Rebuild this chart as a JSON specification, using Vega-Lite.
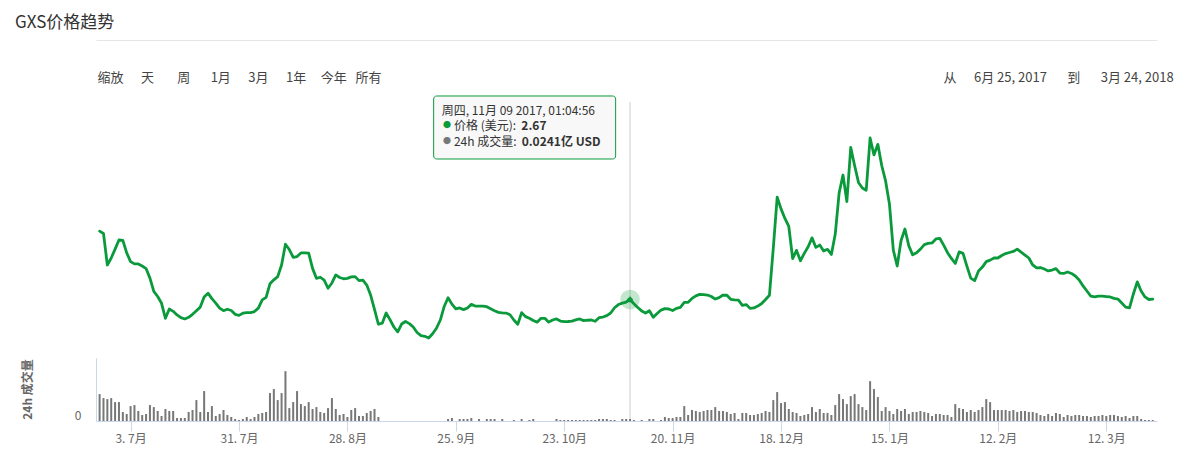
{
"$schema": "https://vega.github.io/schema/vega-lite/v6.json",
"width": 1061, "height": 319,
"autosize": {"type": "none"},
"padding": {"left": 96, "top": 102, "right": 42, "bottom": 52},
"background": "white",
"config": {"font": "Noto Sans CJK SC", "view": {"stroke": null}},
"title": {"text": "GXS价格趋势", "anchor": "start", "frame": "group", "dx": -81, "dy": 20, "offset": 11, "baseline": "bottom", "fontSize": 17, "fontWeight": "normal", "color": "#333333"},
"data": {"format": {"parse": {"date": "date"}}, "values": [
{"date":"2017/06/25","price":5.90,"volume":32.3},
{"date":"2017/06/26","price":5.79,"volume":27.5},
{"date":"2017/06/27","price":4.30,"volume":26.3},
{"date":"2017/06/28","price":4.63,"volume":27.5},
{"date":"2017/06/29","price":5.05,"volume":22.7},
{"date":"2017/06/30","price":5.48,"volume":22.7},
{"date":"2017/07/01","price":5.46,"volume":10.8},
{"date":"2017/07/02","price":4.87,"volume":8.4},
{"date":"2017/07/03","price":4.46,"volume":17.9},
{"date":"2017/07/04","price":4.35,"volume":19.1},
{"date":"2017/07/05","price":4.35,"volume":12},
{"date":"2017/07/06","price":4.25,"volume":7.2},
{"date":"2017/07/07","price":4.13,"volume":8.4},
{"date":"2017/07/08","price":3.68,"volume":19.1},
{"date":"2017/07/09","price":3.05,"volume":16.7},
{"date":"2017/07/10","price":2.81,"volume":12},
{"date":"2017/07/11","price":2.49,"volume":6},
{"date":"2017/07/12","price":1.78,"volume":14.4},
{"date":"2017/07/13","price":2.22,"volume":12},
{"date":"2017/07/14","price":2.11,"volume":12},
{"date":"2017/07/15","price":1.94,"volume":3.6},
{"date":"2017/07/16","price":1.81,"volume":3.6},
{"date":"2017/07/17","price":1.75,"volume":3.6},
{"date":"2017/07/18","price":1.83,"volume":10.8},
{"date":"2017/07/19","price":1.97,"volume":13.2},
{"date":"2017/07/20","price":2.14,"volume":25.1},
{"date":"2017/07/21","price":2.31,"volume":10.8},
{"date":"2017/07/22","price":2.79,"volume":35.9},
{"date":"2017/07/23","price":2.97,"volume":10.8},
{"date":"2017/07/24","price":2.71,"volume":17.9},
{"date":"2017/07/25","price":2.50,"volume":6},
{"date":"2017/07/26","price":2.26,"volume":8.4},
{"date":"2017/07/27","price":2.14,"volume":13.2},
{"date":"2017/07/28","price":2.21,"volume":7.2},
{"date":"2017/07/29","price":2.15,"volume":4.8},
{"date":"2017/07/30","price":1.97,"volume":2.4},
{"date":"2017/07/31","price":1.92,"volume":1.2},
{"date":"2017/08/01","price":2.02,"volume":2.4},
{"date":"2017/08/02","price":2.05,"volume":4.8},
{"date":"2017/08/03","price":2.05,"volume":2.4},
{"date":"2017/08/04","price":2.10,"volume":4.8},
{"date":"2017/08/05","price":2.26,"volume":8.4},
{"date":"2017/08/06","price":2.65,"volume":9.6},
{"date":"2017/08/07","price":2.77,"volume":10.8},
{"date":"2017/08/08","price":3.41,"volume":33.5},
{"date":"2017/08/09","price":3.60,"volume":38.3},
{"date":"2017/08/10","price":3.75,"volume":25.1},
{"date":"2017/08/11","price":4.30,"volume":33.5},
{"date":"2017/08/12","price":5.28,"volume":59.8},
{"date":"2017/08/13","price":5.03,"volume":15.5},
{"date":"2017/08/14","price":4.66,"volume":22.7},
{"date":"2017/08/15","price":4.70,"volume":35.9},
{"date":"2017/08/16","price":4.87,"volume":20.3},
{"date":"2017/08/17","price":4.87,"volume":17.9},
{"date":"2017/08/18","price":4.86,"volume":22.7},
{"date":"2017/08/19","price":4.14,"volume":14.4},
{"date":"2017/08/20","price":3.67,"volume":16.7},
{"date":"2017/08/21","price":3.72,"volume":10.8},
{"date":"2017/08/22","price":3.58,"volume":9.6},
{"date":"2017/08/23","price":3.20,"volume":15.5},
{"date":"2017/08/24","price":3.45,"volume":27.5},
{"date":"2017/08/25","price":3.83,"volume":14.4},
{"date":"2017/08/26","price":3.71,"volume":7.2},
{"date":"2017/08/27","price":3.65,"volume":8.4},
{"date":"2017/08/28","price":3.67,"volume":4.8},
{"date":"2017/08/29","price":3.74,"volume":13.2},
{"date":"2017/08/30","price":3.75,"volume":15.5},
{"date":"2017/08/31","price":3.56,"volume":6},
{"date":"2017/09/01","price":3.58,"volume":6},
{"date":"2017/09/02","price":3.35,"volume":9.6},
{"date":"2017/09/03","price":2.88,"volume":12},
{"date":"2017/09/04","price":2.20,"volume":14.4},
{"date":"2017/09/05","price":1.50,"volume":4.8},
{"date":"2017/09/06","price":1.55,"volume":0},
{"date":"2017/09/07","price":2.03,"volume":0},
{"date":"2017/09/08","price":1.72,"volume":0},
{"date":"2017/09/09","price":1.37,"volume":0},
{"date":"2017/09/10","price":1.14,"volume":0},
{"date":"2017/09/11","price":1.51,"volume":0},
{"date":"2017/09/12","price":1.63,"volume":0},
{"date":"2017/09/13","price":1.53,"volume":0},
{"date":"2017/09/14","price":1.37,"volume":0},
{"date":"2017/09/15","price":1.11,"volume":0},
{"date":"2017/09/16","price":0.96,"volume":0},
{"date":"2017/09/17","price":0.93,"volume":0},
{"date":"2017/09/18","price":0.85,"volume":0},
{"date":"2017/09/19","price":1.05,"volume":0},
{"date":"2017/09/20","price":1.31,"volume":0},
{"date":"2017/09/21","price":1.70,"volume":0},
{"date":"2017/09/22","price":2.34,"volume":0},
{"date":"2017/09/23","price":2.75,"volume":2.4},
{"date":"2017/09/24","price":2.45,"volume":3.6},
{"date":"2017/09/25","price":2.23,"volume":0},
{"date":"2017/09/26","price":2.27,"volume":2.4},
{"date":"2017/09/27","price":2.19,"volume":2.4},
{"date":"2017/09/28","price":2.27,"volume":2.4},
{"date":"2017/09/29","price":2.44,"volume":3.6},
{"date":"2017/09/30","price":2.36,"volume":0},
{"date":"2017/10/01","price":2.36,"volume":2.4},
{"date":"2017/10/02","price":2.36,"volume":0},
{"date":"2017/10/03","price":2.33,"volume":2.4},
{"date":"2017/10/04","price":2.23,"volume":2.4},
{"date":"2017/10/05","price":2.14,"volume":2.4},
{"date":"2017/10/06","price":2.06,"volume":0},
{"date":"2017/10/07","price":2.04,"volume":2.4},
{"date":"2017/10/08","price":2.03,"volume":0},
{"date":"2017/10/09","price":1.95,"volume":0},
{"date":"2017/10/10","price":1.70,"volume":1.2},
{"date":"2017/10/11","price":1.50,"volume":0},
{"date":"2017/10/12","price":2.05,"volume":2.4},
{"date":"2017/10/13","price":1.86,"volume":0},
{"date":"2017/10/14","price":1.78,"volume":1.2},
{"date":"2017/10/15","price":1.68,"volume":2.4},
{"date":"2017/10/16","price":1.60,"volume":0},
{"date":"2017/10/17","price":1.78,"volume":0},
{"date":"2017/10/18","price":1.78,"volume":0},
{"date":"2017/10/19","price":1.60,"volume":0},
{"date":"2017/10/20","price":1.70,"volume":0},
{"date":"2017/10/21","price":1.75,"volume":2.4},
{"date":"2017/10/22","price":1.65,"volume":1.2},
{"date":"2017/10/23","price":1.62,"volume":1.2},
{"date":"2017/10/24","price":1.63,"volume":1.2},
{"date":"2017/10/25","price":1.65,"volume":1.2},
{"date":"2017/10/26","price":1.71,"volume":1.2},
{"date":"2017/10/27","price":1.75,"volume":1.2},
{"date":"2017/10/28","price":1.67,"volume":1.2},
{"date":"2017/10/29","price":1.69,"volume":1.2},
{"date":"2017/10/30","price":1.70,"volume":1.2},
{"date":"2017/10/31","price":1.64,"volume":1.2},
{"date":"2017/11/01","price":1.81,"volume":2.4},
{"date":"2017/11/02","price":1.84,"volume":2.4},
{"date":"2017/11/03","price":1.91,"volume":2.4},
{"date":"2017/11/04","price":2.03,"volume":1.2},
{"date":"2017/11/05","price":2.28,"volume":1.2},
{"date":"2017/11/06","price":2.43,"volume":0},
{"date":"2017/11/07","price":2.50,"volume":2.4},
{"date":"2017/11/08","price":2.55,"volume":2.4},
{"date":"2017/11/09","price":2.67,"volume":2.41},
{"date":"2017/11/10","price":2.47,"volume":1.2},
{"date":"2017/11/11","price":2.29,"volume":0},
{"date":"2017/11/12","price":2.13,"volume":1.2},
{"date":"2017/11/13","price":2.03,"volume":0},
{"date":"2017/11/14","price":2.14,"volume":2.4},
{"date":"2017/11/15","price":1.83,"volume":2.4},
{"date":"2017/11/16","price":2.01,"volume":0},
{"date":"2017/11/17","price":2.17,"volume":1.2},
{"date":"2017/11/18","price":2.24,"volume":4.8},
{"date":"2017/11/19","price":2.22,"volume":3.6},
{"date":"2017/11/20","price":2.15,"volume":3.6},
{"date":"2017/11/21","price":2.25,"volume":4.8},
{"date":"2017/11/22","price":2.30,"volume":4.8},
{"date":"2017/11/23","price":2.53,"volume":17.9},
{"date":"2017/11/24","price":2.54,"volume":7.2},
{"date":"2017/11/25","price":2.72,"volume":13.2},
{"date":"2017/11/26","price":2.84,"volume":12},
{"date":"2017/11/27","price":2.91,"volume":10.8},
{"date":"2017/11/28","price":2.90,"volume":12},
{"date":"2017/11/29","price":2.88,"volume":13.2},
{"date":"2017/11/30","price":2.81,"volume":13.2},
{"date":"2017/12/01","price":2.69,"volume":16.7},
{"date":"2017/12/02","price":2.76,"volume":12},
{"date":"2017/12/03","price":2.88,"volume":12},
{"date":"2017/12/04","price":2.87,"volume":10.8},
{"date":"2017/12/05","price":2.68,"volume":8.4},
{"date":"2017/12/06","price":2.65,"volume":9.6},
{"date":"2017/12/07","price":2.64,"volume":2.4},
{"date":"2017/12/08","price":2.39,"volume":9.6},
{"date":"2017/12/09","price":2.43,"volume":9.6},
{"date":"2017/12/10","price":2.25,"volume":7.2},
{"date":"2017/12/11","price":2.27,"volume":7.2},
{"date":"2017/12/12","price":2.36,"volume":8.4},
{"date":"2017/12/13","price":2.48,"volume":9.6},
{"date":"2017/12/14","price":2.67,"volume":12},
{"date":"2017/12/15","price":2.87,"volume":10.8},
{"date":"2017/12/16","price":5.10,"volume":25.1},
{"date":"2017/12/17","price":7.50,"volume":34.7},
{"date":"2017/12/18","price":6.95,"volume":21.5},
{"date":"2017/12/19","price":6.50,"volume":22.7},
{"date":"2017/12/20","price":6.12,"volume":14.4},
{"date":"2017/12/21","price":4.60,"volume":10.8},
{"date":"2017/12/22","price":4.99,"volume":9.6},
{"date":"2017/12/23","price":4.50,"volume":6},
{"date":"2017/12/24","price":4.85,"volume":7.2},
{"date":"2017/12/25","price":5.16,"volume":8.4},
{"date":"2017/12/26","price":5.58,"volume":16.7},
{"date":"2017/12/27","price":5.13,"volume":10.8},
{"date":"2017/12/28","price":5.24,"volume":14.4},
{"date":"2017/12/29","price":4.96,"volume":9.6},
{"date":"2017/12/30","price":5.04,"volume":9.6},
{"date":"2017/12/31","price":4.80,"volume":7.2},
{"date":"2018/01/01","price":5.76,"volume":19.1},
{"date":"2018/01/02","price":7.70,"volume":32.3},
{"date":"2018/01/03","price":8.55,"volume":26.3},
{"date":"2018/01/04","price":7.30,"volume":20.3},
{"date":"2018/01/05","price":9.85,"volume":29.9},
{"date":"2018/01/06","price":9.00,"volume":32.3},
{"date":"2018/01/07","price":8.20,"volume":20.3},
{"date":"2018/01/08","price":7.94,"volume":16.7},
{"date":"2018/01/09","price":7.83,"volume":13.2},
{"date":"2018/01/10","price":10.30,"volume":47.8},
{"date":"2018/01/11","price":9.50,"volume":38.3},
{"date":"2018/01/12","price":10.00,"volume":28.7},
{"date":"2018/01/13","price":9.00,"volume":12},
{"date":"2018/01/14","price":8.27,"volume":16.7},
{"date":"2018/01/15","price":7.18,"volume":12},
{"date":"2018/01/16","price":5.00,"volume":8.4},
{"date":"2018/01/17","price":4.25,"volume":14.4},
{"date":"2018/01/18","price":5.46,"volume":12},
{"date":"2018/01/19","price":6.00,"volume":14.4},
{"date":"2018/01/20","price":5.20,"volume":8.4},
{"date":"2018/01/21","price":4.78,"volume":10.8},
{"date":"2018/01/22","price":4.88,"volume":10.8},
{"date":"2018/01/23","price":5.05,"volume":12},
{"date":"2018/01/24","price":5.26,"volume":10.8},
{"date":"2018/01/25","price":5.32,"volume":9.6},
{"date":"2018/01/26","price":5.34,"volume":6},
{"date":"2018/01/27","price":5.53,"volume":8.4},
{"date":"2018/01/28","price":5.56,"volume":8.4},
{"date":"2018/01/29","price":5.24,"volume":7.2},
{"date":"2018/01/30","price":4.88,"volume":7.2},
{"date":"2018/01/31","price":4.61,"volume":4.8},
{"date":"2018/02/01","price":4.37,"volume":20.3},
{"date":"2018/02/02","price":4.92,"volume":15.5},
{"date":"2018/02/03","price":4.85,"volume":14.4},
{"date":"2018/02/04","price":4.25,"volume":10.8},
{"date":"2018/02/05","price":3.68,"volume":13.2},
{"date":"2018/02/06","price":3.56,"volume":10.8},
{"date":"2018/02/07","price":4.02,"volume":13.2},
{"date":"2018/02/08","price":4.20,"volume":16.7},
{"date":"2018/02/09","price":4.46,"volume":26.3},
{"date":"2018/02/10","price":4.53,"volume":22.7},
{"date":"2018/02/11","price":4.63,"volume":13.2},
{"date":"2018/02/12","price":4.63,"volume":13.2},
{"date":"2018/02/13","price":4.75,"volume":13.2},
{"date":"2018/02/14","price":4.84,"volume":13.2},
{"date":"2018/02/15","price":4.89,"volume":12},
{"date":"2018/02/16","price":4.94,"volume":13.2},
{"date":"2018/02/17","price":5.05,"volume":10.8},
{"date":"2018/02/18","price":4.91,"volume":12},
{"date":"2018/02/19","price":4.77,"volume":12},
{"date":"2018/02/20","price":4.63,"volume":10.8},
{"date":"2018/02/21","price":4.30,"volume":10.8},
{"date":"2018/02/22","price":4.16,"volume":9.6},
{"date":"2018/02/23","price":4.18,"volume":7.2},
{"date":"2018/02/24","price":4.11,"volume":6},
{"date":"2018/02/25","price":4.02,"volume":8.4},
{"date":"2018/02/26","price":4.06,"volume":6},
{"date":"2018/02/27","price":4.13,"volume":9.6},
{"date":"2018/02/28","price":3.92,"volume":8.4},
{"date":"2018/03/01","price":3.90,"volume":4.8},
{"date":"2018/03/02","price":3.97,"volume":7.2},
{"date":"2018/03/03","price":3.90,"volume":6},
{"date":"2018/03/04","price":3.78,"volume":7.2},
{"date":"2018/03/05","price":3.59,"volume":7.2},
{"date":"2018/03/06","price":3.31,"volume":6},
{"date":"2018/03/07","price":3.07,"volume":6},
{"date":"2018/03/08","price":2.83,"volume":4.8},
{"date":"2018/03/09","price":2.79,"volume":6},
{"date":"2018/03/10","price":2.83,"volume":6},
{"date":"2018/03/11","price":2.83,"volume":7.2},
{"date":"2018/03/12","price":2.81,"volume":6},
{"date":"2018/03/13","price":2.79,"volume":7.2},
{"date":"2018/03/14","price":2.72,"volume":7.2},
{"date":"2018/03/15","price":2.69,"volume":6},
{"date":"2018/03/16","price":2.50,"volume":4.8},
{"date":"2018/03/17","price":2.31,"volume":6},
{"date":"2018/03/18","price":2.27,"volume":3.6},
{"date":"2018/03/19","price":2.93,"volume":6},
{"date":"2018/03/20","price":3.50,"volume":6},
{"date":"2018/03/21","price":3.07,"volume":2.4},
{"date":"2018/03/22","price":2.79,"volume":1.2},
{"date":"2018/03/23","price":2.67,"volume":1.2},
{"date":"2018/03/24","price":2.69,"volume":1.2}
]},
"layer": [
 {
  "encoding": {"x": {"field": "date", "type": "temporal",
    "scale": {"padding": 0, "domain": [{"year":2017,"month":6,"date":24,"hours":1,"minutes":40},{"year":2018,"month":3,"date":25,"hours":2,"minutes":24}]},
    "axis": {"orient": "bottom", "grid": false,
      "values": [{"year":2017,"month":7,"date":3},{"year":2017,"month":7,"date":31},{"year":2017,"month":8,"date":28},{"year":2017,"month":9,"date":25},{"year":2017,"month":10,"date":23},{"year":2017,"month":11,"date":20},{"year":2017,"month":12,"date":18},{"year":2018,"month":1,"date":15},{"year":2018,"month":2,"date":12},{"year":2018,"month":3,"date":12}],
      "format": "%-d. %-m月", "labelFontSize": 12, "labelColor": "#666666", "labelPadding": 2, "labelOverlap": false, "labelFlush": false,
      "tickSize": 10, "tickColor": "#ccd6eb", "domainColor": "#ccd6eb",
      "title": "从\u00a0\u00a0\u00a0\u00a0\u00a0\u00a06月 25, 2017\u00a0\u00a0\u00a0\u00a0\u00a0\u00a0\u00a0到\u00a0\u00a0\u00a0\u00a0\u00a0\u00a0\u00a03月 24, 2018", "titleX": 847, "titleY": -344, "titleAlign": "left", "titleBaseline": "middle", "titleAngle": 0,
      "titleFontSize": 13, "titleFontWeight": "normal", "titleColor": "#444444", "titleLimit": 1000}}},
  "layer": [
   {"transform": [{"filter": {"field": "date", "timeUnit": "yearmonthdate", "equal": {"year": 2017, "month": 11, "date": 9}}}],
    "mark": {"type": "rule", "color": "#cccccc", "strokeWidth": 1}, "encoding": {}},
   {"mark": {"type": "line", "color": "#0a9a3c", "strokeWidth": 2.8, "strokeJoin": "round", "strokeCap": "round"},
    "encoding": {"y": {"field": "price", "type": "quantitative", "scale": {"domain": [0, 12], "range": [254, 0], "nice": false},
      "axis": {"orient": "right", "values": [0, 3, 6, 9, 12], "labels": false, "ticks": false, "domain": false, "grid": true, "gridColor": "#e6e6e6",
        "title": "价格 (美元)", "titleColor": "#0a9a3c", "titleFontWeight": "bold", "titleFontSize": 12, "titleAngle": 90, "titleX": 15, "titleY": 126, "titleAlign": "center", "titleBaseline": "middle"}}}},
   {"transform": [{"filter": {"field": "date", "timeUnit": "yearmonthdate", "equal": {"year": 2017, "month": 11, "date": 9}}}],
    "mark": {"type": "point", "filled": true, "size": 380, "color": "#0a9a3c", "opacity": 0.25},
    "encoding": {"y": {"field": "price", "type": "quantitative", "scale": {"domain": [0, 12], "range": [254, 0], "nice": false}, "axis": null}}},
   {"transform": [{"filter": {"field": "date", "timeUnit": "yearmonthdate", "equal": {"year": 2017, "month": 11, "date": 9}}}],
    "mark": {"type": "point", "filled": true, "size": 40, "shape": "diamond", "color": "#0a9a3c", "opacity": 1},
    "encoding": {"y": {"field": "price", "type": "quantitative", "scale": {"domain": [0, 12], "range": [254, 0], "nice": false}, "axis": null}}},
   {"transform": [{"filter": {"field": "date", "timeUnit": "yearmonthdate", "equal": {"year": 2017, "month": 11, "date": 9}}}],
    "mark": {"type": "rect", "fill": "#f7f7f7", "fillOpacity": 0.9, "stroke": "#0a9a3c", "strokeWidth": 1, "cornerRadius": 3, "xOffset": -196.4, "x2Offset": -14.4, "yOffset": -203.5, "y2Offset": -140.5},
    "encoding": {"x2": {"field": "date"}, "y": {"field": "price", "type": "quantitative", "scale": {"domain": [0, 12], "range": [254, 0], "nice": false}, "axis": null}, "y2": {"field": "price"}}},
   {"transform": [{"filter": {"field": "date", "timeUnit": "yearmonthdate", "equal": {"year": 2017, "month": 11, "date": 9}}}],
    "mark": {"type": "text", "text": "周四, 11月 09 2017, 01:04:56", "align": "left", "baseline": "middle", "dx": -188.4, "dy": -188.5, "fontSize": 12, "color": "#333333"},
    "encoding": {"y": {"field": "price", "type": "quantitative", "scale": {"domain": [0, 12], "range": [254, 0], "nice": false}, "axis": null}}},
   {"transform": [{"filter": {"field": "date", "timeUnit": "yearmonthdate", "equal": {"year": 2017, "month": 11, "date": 9}}}],
    "mark": {"type": "text", "text": "●", "align": "left", "baseline": "middle", "dx": -187, "dy": -173.5, "fontSize": 8, "color": "#0a9a3c"},
    "encoding": {"y": {"field": "price", "type": "quantitative", "scale": {"domain": [0, 12], "range": [254, 0], "nice": false}, "axis": null}}},
   {"transform": [{"filter": {"field": "date", "timeUnit": "yearmonthdate", "equal": {"year": 2017, "month": 11, "date": 9}}}],
    "mark": {"type": "text", "text": "价格 (美元): ", "align": "left", "baseline": "middle", "dx": -176.1, "dy": -173.5, "fontSize": 12, "color": "#333333"},
    "encoding": {"y": {"field": "price", "type": "quantitative", "scale": {"domain": [0, 12], "range": [254, 0], "nice": false}, "axis": null}}},
   {"transform": [{"filter": {"field": "date", "timeUnit": "yearmonthdate", "equal": {"year": 2017, "month": 11, "date": 9}}}],
    "mark": {"type": "text", "align": "left", "baseline": "middle", "dx": -108.7, "dy": -173.5, "fontSize": 12, "fontWeight": "bold", "color": "#333333"},
    "encoding": {"text": {"field": "price", "type": "quantitative", "format": ".2f"}, "y": {"field": "price", "type": "quantitative", "scale": {"domain": [0, 12], "range": [254, 0], "nice": false}, "axis": null}}},
   {"transform": [{"filter": {"field": "date", "timeUnit": "yearmonthdate", "equal": {"year": 2017, "month": 11, "date": 9}}}],
    "mark": {"type": "text", "text": "●", "align": "left", "baseline": "middle", "dx": -187, "dy": -157.8, "fontSize": 8, "color": "#777777"},
    "encoding": {"y": {"field": "price", "type": "quantitative", "scale": {"domain": [0, 12], "range": [254, 0], "nice": false}, "axis": null}}},
   {"transform": [{"filter": {"field": "date", "timeUnit": "yearmonthdate", "equal": {"year": 2017, "month": 11, "date": 9}}}],
    "mark": {"type": "text", "text": "24h 成交量: ", "align": "left", "baseline": "middle", "dx": -176.1, "dy": -157.8, "fontSize": 12, "color": "#333333"},
    "encoding": {"y": {"field": "price", "type": "quantitative", "scale": {"domain": [0, 12], "range": [254, 0], "nice": false}, "axis": null}}},
   {"transform": [{"filter": {"field": "date", "timeUnit": "yearmonthdate", "equal": {"year": 2017, "month": 11, "date": 9}}}],
    "mark": {"type": "text", "text": "0.0241亿 USD", "align": "left", "baseline": "middle", "dx": -108.4, "dy": -157.8, "fontSize": 12, "fontWeight": "bold", "color": "#333333"},
    "encoding": {"y": {"field": "price", "type": "quantitative", "scale": {"domain": [0, 12], "range": [254, 0], "nice": false}, "axis": null}}}
  ]
 },
 {
  "mark": {"type": "bar", "color": "#777777", "width": 2},
  "encoding": {
   "x": {"field": "date", "type": "temporal",
    "scale": {"padding": 0, "domain": [{"year":2017,"month":6,"date":24,"hours":1,"minutes":40},{"year":2018,"month":3,"date":25,"hours":2,"minutes":24}]},
    "axis": {"orient": "top", "offset": 62, "labels": false, "ticks": false, "grid": false, "domain": true, "domainColor": "#e6e6e6",
      "title": "缩放\u00a0\u00a0\u00a0\u00a0\u00a0\u00a0天\u00a0\u00a0\u00a0\u00a0\u00a0\u00a0\u00a0\u00a0周\u00a0\u00a0\u00a0\u00a0\u00a0\u00a0\u00a01月\u00a0\u00a0\u00a0\u00a0\u00a0\u00a03月\u00a0\u00a0\u00a0\u00a0\u00a0\u00a01年\u00a0\u00a0\u00a0\u00a0\u00a0今年\u00a0\u00a0\u00a0所有", "titleX": 1, "titleY": 37, "titleAlign": "left", "titleBaseline": "middle", "titleAngle": 0,
      "titleFontSize": 13, "titleFontWeight": "normal", "titleColor": "#444444", "titleLimit": 1000}},
   "y": {"field": "volume", "type": "quantitative", "scale": {"domain": [0, 75.6], "range": [319, 256], "nice": false},
    "axis": {"orient": "left", "values": [0], "ticks": false, "grid": false, "domain": true, "domainColor": "#ccd6eb",
      "labelColor": "#666666", "labelFontSize": 12, "labelPadding": 15, "labelBaseline": "alphabetic", "labelOffset": -2,
      "title": "24h 成交量", "titleColor": "#666666", "titleFontWeight": "bold", "titleFontSize": 12, "titleAngle": 270, "titleX": -69, "titleY": 287, "titleAlign": "center", "titleBaseline": "middle"}}
  }
 }
],
"resolve": {"scale": {"y": "independent"}, "axis": {"x": "independent"}}
}
